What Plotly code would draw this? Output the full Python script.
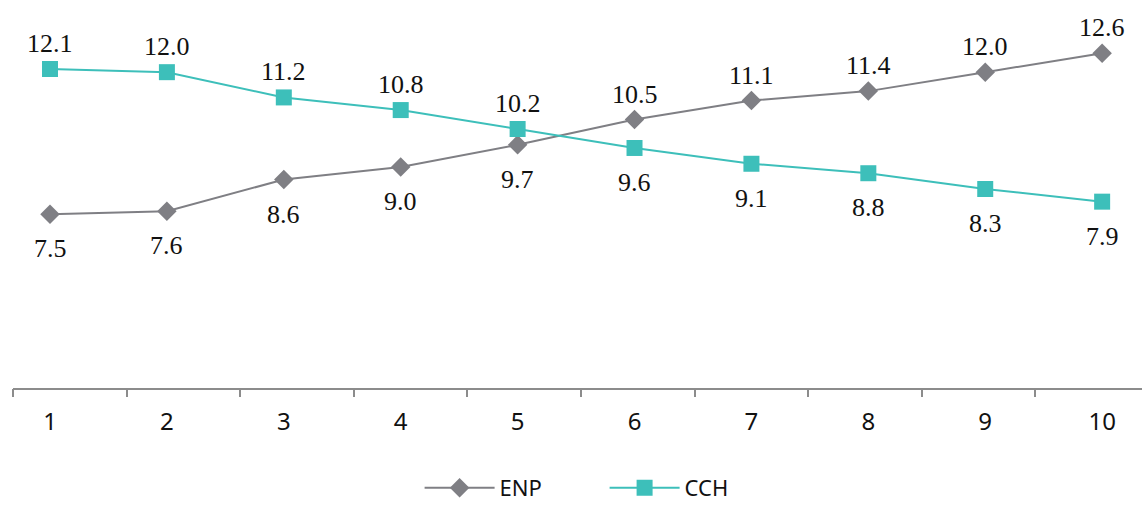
import plotly.graph_objects as go

categories = [1, 2, 3, 4, 5, 6, 7, 8, 9, 10]
tick_labels = ["1", "2", "3", "4", "5", "6", "7", "8", "9", "10"]
enp = [7.5, 7.6, 8.6, 9.0, 9.7, 10.5, 11.1, 11.4, 12.0, 12.6]
cch = [12.1, 12.0, 11.2, 10.8, 10.2, 9.6, 9.1, 8.8, 8.3, 7.9]

GRAY = "#7f7f84"
TEAL = "#3dbfba"

fig = go.Figure()
fig.add_trace(go.Scatter(
    x=categories, y=enp, name="ENP", mode="lines+markers",
    line=dict(color=GRAY, width=2),
    marker=dict(symbol="diamond", size=15, color=GRAY),
))
fig.add_trace(go.Scatter(
    x=categories, y=cch, name="CCH", mode="lines+markers",
    line=dict(color=TEAL, width=2),
    marker=dict(symbol="square", size=16, color=TEAL),
))

annos = []
for x, e, c in zip(categories, enp, cch):
    e_above = e > c
    for v, above in ((e, e_above), (c, not e_above)):
        annos.append(dict(
            x=x, y=v, xref="x", yref="y", text=f"{v:.1f}", showarrow=False,
            yanchor="bottom" if above else "top",
            yshift=9 if above else -18,
            font=dict(family="Liberation Serif, serif", size=26, color="#111111"),
        ))

fig.update_layout(
    width=1142, height=509,
    margin=dict(l=13, r=0, t=9, b=121, autoexpand=False),
    plot_bgcolor="white", paper_bgcolor="white",
    showlegend=True,
    legend=dict(orientation="h", x=0.524, xanchor="center", y=0, yref="container",
                yanchor="bottom", borderwidth=0,
                font=dict(family="Noto Sans, Open Sans, sans-serif", size=22, color="#111111"),
                itemwidth=70, entrywidth=100, tracegroupgap=0),
    annotations=annos,
    xaxis=dict(
        range=[0.6835, 10.341], tickvals=categories, ticktext=tick_labels,
        ticks="", showgrid=False, zeroline=False, automargin=False,
        showline=True, linecolor="#8c8c8c", linewidth=1.5,
        tickfont=dict(family="Noto Sans, Open Sans, sans-serif", size=24, color="#111111"),
        ticklabelstandoff=11,
    ),
    xaxis2=dict(
        overlaying="x", anchor="y", side="bottom", range=[0, 9.938],
        tick0=0, dtick=1, ticks="outside", ticklen=8, tickwidth=1.5, automargin=False,
        tickcolor="#8c8c8c", showticklabels=False, showgrid=False, zeroline=False,
    ),
    yaxis=dict(range=[2, 14], visible=False, showgrid=False, zeroline=False, automargin=False),
)
# invisible helper trace so the tick-mark axis (xaxis2) is drawn
fig.add_trace(go.Scatter(x=[0], y=[2], xaxis="x2", yaxis="y", mode="markers",
                         marker=dict(opacity=0), showlegend=False, hoverinfo="skip"))

fig.write_html("out.html", config={"displayModeBar": False},
               post_script="document.body.style.margin='0';document.body.style.overflow='hidden';")
